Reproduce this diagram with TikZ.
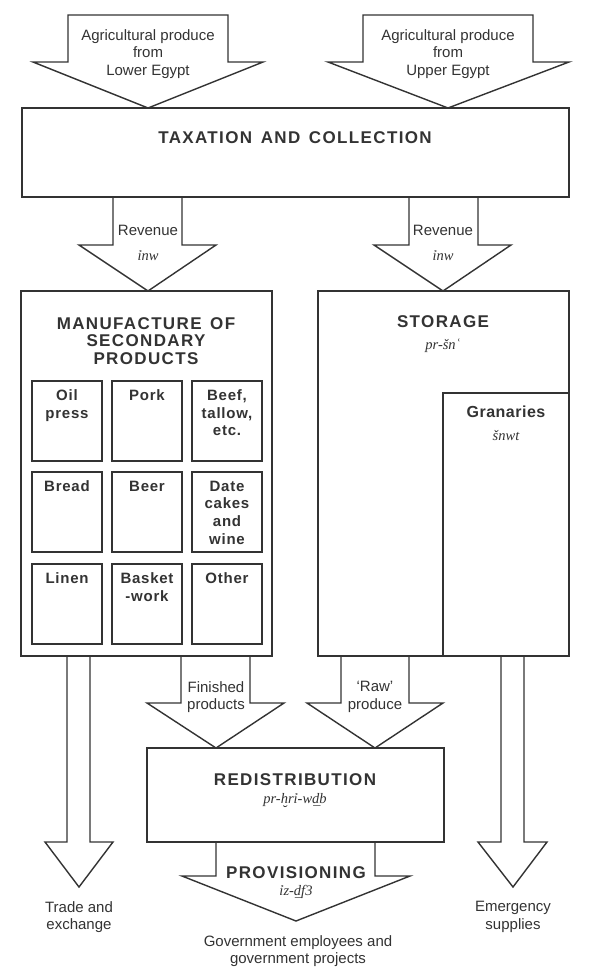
\documentclass[tikz,border=0pt]{standalone}
\usepackage{fontspec}
\setmainfont{Liberation Sans}
\newfontfamily\labfont{Liberation Sans}
\newfontfamily\ttlfont[LetterSpace=8]{Liberation Sans}
\newfontfamily\cellfont[LetterSpace=5]{Liberation Sans}
\newfontfamily\granfont[LetterSpace=3]{Liberation Sans}
\newfontfamily\trfont{Liberation Serif}
\usetikzlibrary{calc}
\definecolor{ink}{HTML}{333333}
\newcommand\hsb{\oalign{h\crcr\hidewidth\char"02D8\hidewidth}}
\newcommand\dln{\oalign{d\crcr\hidewidth\char"00AF\hidewidth}}
\begin{document}
\begin{tikzpicture}[x=1pt,y=-1pt]
\tikzset{
  ln/.style={draw=ink, line width=1.4pt, line join=miter},
  box/.style={ln, rectangle, inner sep=0pt, outer sep=0pt, anchor=north west},
  lab/.style={text=ink, font=\labfont\fontsize{15}{17.5}\selectfont, align=center, inner sep=0pt},
  ttl/.style={text=ink, font=\ttlfont\bfseries\fontsize{17}{17.5}\selectfont, align=center, inner sep=0pt},
  celltxt/.style={text=ink, font=\cellfont\bfseries\fontsize{15}{17.7}\selectfont, align=center, inner sep=0pt, anchor=north},
  gran/.style={text=ink, font=\granfont\bfseries\fontsize{16}{18}\selectfont, align=center, inner sep=0pt},
  translit/.style={text=ink, font=\trfont\itshape\fontsize{14.5}{17}\selectfont, inner sep=0pt},
}
\useasboundingbox[fill=white] (0,0) rectangle (591,975);

% ---- boxes ----
\node[box, minimum width=547pt, minimum height=89pt] (tax) at (22,108) {};
\node[box, minimum width=251pt, minimum height=365pt] (man) at (21,291) {};
\node[box, minimum width=251pt, minimum height=365pt] (sto) at (318,291) {};
\node[box, minimum width=126pt, minimum height=263pt] (gra) at (443,393) {};
\node[box, minimum width=297pt, minimum height=94pt] (red) at (147,748) {};

% ---- grid of workshops ----
\foreach \c/\x in {1/32,2/112,3/192}{
  \foreach \r/\y in {1/381,2/472,3/564}{
    \node[box, minimum width=70pt, minimum height=80pt] (c\r\c) at (\x,\y) {};
  }
}
\node[celltxt] (t11) at ($(c11.north)+(0,8.5)$) {Oil\\press};
\node[celltxt] (t12) at ($(c12.north)+(0,8.5)$) {Pork};
\node[celltxt] (t13) at ($(c13.north)+(0,8.5)$) {Beef,\\tallow,\\etc.};
\node[celltxt] (t21) at ($(c21.north)+(0,8.5)$) {Bread};
\node[celltxt] (t22) at ($(c22.north)+(0,8.5)$) {Beer};
\node[celltxt] (t23) at ($(c23.north)+(0,8.5)$) {Date\\cakes\\and\\wine};
\node[celltxt] (t31) at ($(c31.north)+(0,8.5)$) {Linen};
\node[celltxt] (t32) at ($(c32.north)+(0,8.5)$) {Basket\\-work};
\node[celltxt] (t33) at ($(c33.north)+(0,8.5)$) {Other};

% ---- box titles ----
\node[ttl] (taxt) at (295,138) {TAXATION\hspace{0.15em} AND\hspace{0.15em} COLLECTION};
\node[ttl] (mant) at (146,341) {MANUFACTURE\hspace{0.15em} OF\\SECONDARY\\PRODUCTS};
\node[ttl] (stot) at (443,322) {STORAGE};
\node[translit] (stoi) at (443,346) {pr-šn\char"02BF};
\node[gran] (grat) at (506,412) {Granaries};
\node[translit] (grai) at (506,436) {šnwt};
\node[ttl] (redt) at (295,780) {REDISTRIBUTION};
\node[translit] (redi) at (295,805) {pr-\hsb r\char"1EC9-w\dln b};

% ---- arrows in ----
\draw[ln] (68,15) -- (228,15) -- (228,62) -- (263,62) -- (148,108) -- (33,62) -- (68,62) -- cycle;
\draw[ln] (363,15) -- (533,15) -- (533,62) -- (569,62) -- (448,108) -- (328,62) -- (363,62) -- cycle;
\node[lab] (inl) at (148,54) {Agricultural produce\\from\\Lower Egypt};
\node[lab] (inr) at (448,54) {Agricultural produce\\from\\Upper Egypt};

% ---- revenue arrows ----
\draw[ln] (113,197) -- (113,245) -- (79,245) -- (148,291) -- (216,245) -- (182,245) -- (182,197);
\draw[ln] (409,197) -- (409,245) -- (374,245) -- (443,291) -- (511,245) -- (478,245) -- (478,197);
\node[lab] (rev1) at (148,230) {Revenue};
\node[translit] (rev1i) at (148,256) {\char"1EC9nw};
\node[lab] (rev2) at (443,230) {Revenue};
\node[translit] (rev2i) at (443,256) {\char"1EC9nw};

% ---- finished / raw arrows ----
\draw[ln] (181,656) -- (181,703) -- (147,703) -- (216,748) -- (284,703) -- (250,703) -- (250,656);
\draw[ln] (341,656) -- (341,703) -- (307,703) -- (375,748) -- (443,703) -- (409,703) -- (409,656);
\node[lab] (fin) at (216,697) {Finished\\products};
\node[lab] (raw) at (375,697) {‘Raw’\\produce};

% ---- trade and emergency arrows ----
\draw[ln] (67,656) -- (67,842) -- (45,842) -- (79,887) -- (113,842) -- (90,842) -- (90,656);
\draw[ln] (501,656) -- (501,842) -- (478,842) -- (513,887) -- (547,842) -- (524,842) -- (524,656);
\node[lab] (trade) at (79,917) {Trade and\\exchange};
\node[lab] (emer) at (513,917) {Emergency\\supplies};

% ---- provisioning arrow ----
\draw[ln] (216,842) -- (216,876) -- (182,876) -- (296,921) -- (410,876) -- (375,876) -- (375,842);
\node[ttl] (prov) at (296,873) {PROVISIONING};
\node[translit] (provi) at (296,897) {\char"1EC9z-\dln f3};
\node[lab] (gov) at (298,951) {Government employees and\\government projects};
\end{tikzpicture}
\end{document}
